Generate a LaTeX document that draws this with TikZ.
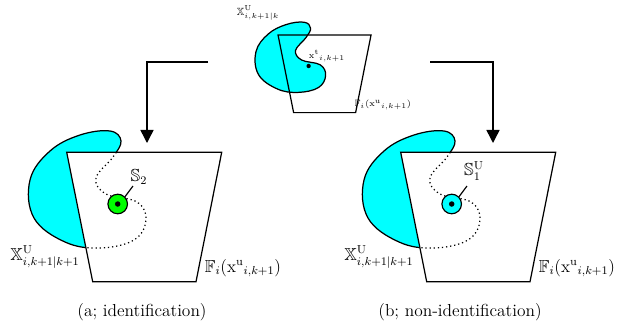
\documentclass[tikz,border=0pt]{standalone}
\usepackage{amsmath,amssymb}
\usetikzlibrary{arrows.meta}
\definecolor{aqua}{RGB}{0,255,255}
\definecolor{lime}{RGB}{0,255,0}

\begin{document}
\begin{tikzpicture}[
    x=0.69pt, y=-0.69pt,
    region/.style={fill=aqua, draw=black, line width=0.85pt},
    field/.style={draw=black, line width=0.85pt},
    border/.style={draw=black, dotted, line width=0.85pt},
    flow/.style={line width=1pt, -{Triangle[width=9pt, length=9pt]}},
    target/.style={circle, draw, line width=0.8pt, minimum size=13.5pt, inner sep=0pt},
    point/.style={circle, fill=black, inner sep=0pt, minimum size=3.8pt},
    label style/.style={inner sep=0pt, font=\large},
    small label/.style={inner sep=0pt, font=\fontsize{6.3}{7}\selectfont}
]
    \useasboundingbox (0,0) rectangle (617,327);

    % --- obszar i trapez (wspolne ksztalty) ---
    \def\blobpath{plot[smooth cycle, tension=0.65] coordinates {
        (110,131) (121,141) (113,157) (96,178) (106,194) (137,202) (146,220)
        (134,240) (100,248) (65,242) (34,218) (30,180) (50,151) (80,135)}}
    \def\trappath{(66.7,152.3) -- (221.7,152.3) -- (196,281.7) -- (92.7,281.7) -- cycle}

    % --- GORA (przewidywanie) ---
    \begin{scope}[shift={(238,-56.4)}, scale=0.6]
        \path[region] \blobpath;
        \path[field] \trappath;
        \node[point, minimum size=3pt] (xt) at (117.7,204) {};
    \end{scope}
    \node[small label, font=\fontsize{7.2}{8}\selectfont] (xu) at (258,13) {$\mathbb{X}^{\mathrm{U}}_{i,k+1|k}$};
    \node[small label] (xtl) at (327,56) {${\mathrm{x}^{\mathrm{t}}}_{i,k+1}$};
    \node[small label] (fu) at (383,105) {$\mathbb{F}_i({\mathrm{x}^{\mathrm{u}}}_{i,k+1})$};

    % --- strzalki ---
    \coordinate (la) at (208,62);
    \coordinate (lc) at (147,62);
    \coordinate (lb) at (147,143);
    \coordinate (ra) at (430,62);
    \coordinate (rc) at (493,62);
    \coordinate (rb) at (493,143);
    \draw[flow] (la) -- (lc) -- (lb);
    \draw[flow] (ra) -- (rc) -- (rb);

    % --- PANEL (a) ---
    \path[region] \blobpath;
    \path[field, fill=white] \trappath;
    \begin{scope}
        \clip \trappath;
        \path[border] \blobpath;
    \end{scope}
    \node[target, fill=lime] (sa) at (117.7,204) {};
    \node[point] (pa) at (sa) {};
    \node[label style] (s2) at (139,177) {$\mathbb{S}_2$};
    \draw[line width=0.8pt] (133,186) -- (sa.north east);
    \node[label style] (xa) at (45,257) {$\mathbb{X}^{\mathrm{U}}_{i,k+1|k+1}$};
    \node[label style] (fa) at (243,268) {$\mathbb{F}_i({\mathrm{x}^{\mathrm{u}}}_{i,k+1})$};
    \node[label style] (ca) at (142,312) {(a; identification)};

    % --- PANEL (b) ---
    \begin{scope}[shift={(334,0)}]
        \path[region] \blobpath;
        \path[field, fill=white] \trappath;
        \begin{scope}
            \clip \trappath;
            \path[border] \blobpath;
        \end{scope}
        \node[target, fill=aqua] (sb) at (117.7,204) {};
        \node[point] (pb) at (sb) {};
        \node[label style] (s1) at (140,171) {$\mathbb{S}^{\mathrm{U}}_1$};
        \draw[line width=0.8pt] (133,186) -- (sb.north east);
        \node[label style] (xb) at (45,257) {$\mathbb{X}^{\mathrm{U}}_{i,k+1|k+1}$};
        \node[label style] (fb) at (243,268) {$\mathbb{F}_i({\mathrm{x}^{\mathrm{u}}}_{i,k+1})$};
        \node[label style] (cb) at (126,312) {(b; non-identification)};
    \end{scope}

\end{tikzpicture}
\end{document}
